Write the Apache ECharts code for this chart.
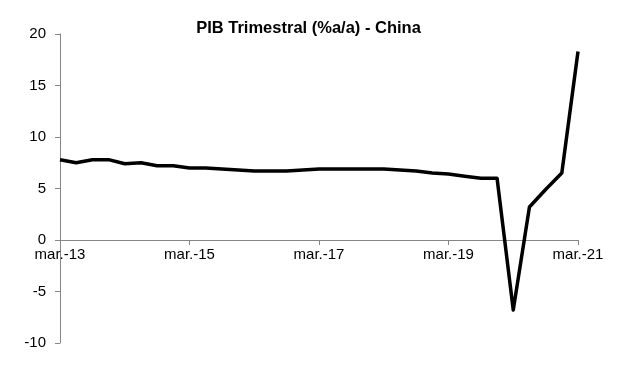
<!DOCTYPE html>
<html>
<head>
<meta charset="utf-8">
<script src="https://cdn.jsdelivr.net/npm/echarts@6/dist/echarts.min.js"></script>
<style>html,body{margin:0;padding:0;background:#fff}#c{width:617px;height:380px}</style>
</head>
<body>
<div id="c"></div>
<script>
const quarters = [];
const years = ['13','14','15','16','17','18','19','20','21'];
const months = ['mar.','jun.','sep.','dic.'];
years.forEach(function(y){ months.forEach(function(m){ quarters.push(m + '-' + y); }); });
const categories = quarters.slice(0, 33);
const gdpYoY = [
  7.8, 7.5, 7.8, 7.8,
  7.4, 7.5, 7.2, 7.2,
  7.0, 7.0, 6.9, 6.8,
  6.7, 6.7, 6.7, 6.8,
  6.9, 6.9, 6.9, 6.9,
  6.9, 6.8, 6.7, 6.5,
  6.4, 6.2, 6.0, 6.0,
  -6.8, 3.2, 4.9, 6.5,
  18.3
];
const yTicks = [-10, -5, 0, 5, 10, 15, 20];
const titleText = 'PIB Trimestral (%a/a) - China';

const chart = echarts.init(document.getElementById('c'), null, {renderer: 'canvas'});
chart.setOption({
  backgroundColor: '#ffffff',
  animation: false,
  title: {
    text: titleText,
    left: 'center',
    top: 15,
    textStyle: {fontFamily: 'Liberation Sans, Arial, sans-serif', fontSize: 16.5, fontWeight: 'bold', color: '#000'}
  },
  grid: {left: 60, right: 39, top: 34, bottom: 37},
  xAxis: {
    type: 'category',
    data: categories,
    boundaryGap: false,
    position: 'bottom',
    offset: -103,
    axisLine: {onZero: false, lineStyle: {color: '#868686', width: 1}},
    axisTick: {show: true, interval: 7, length: 5, lineStyle: {color: '#868686'}},
    axisLabel: {interval: 7, margin: 7, color: '#000', fontSize: 15, fontFamily: 'Liberation Sans, Arial, sans-serif'},
    splitLine: {show: false}
  },
  yAxis: {
    type: 'value',
    min: yTicks[0],
    max: yTicks[yTicks.length - 1],
    interval: 5,
    axisLine: {show: true, lineStyle: {color: '#868686', width: 1}},
    axisTick: {show: true, length: 5, lineStyle: {color: '#868686'}},
    axisLabel: {margin: 14, color: '#000', fontSize: 15, fontFamily: 'Liberation Sans, Arial, sans-serif'},
    splitLine: {show: false}
  },
  series: [{
    type: 'line',
    data: gdpYoY,
    showSymbol: false,
    symbol: 'none',
    lineStyle: {color: '#000', width: 3.5, join: 'round'}
  }]
});
</script>
</body>
</html>
